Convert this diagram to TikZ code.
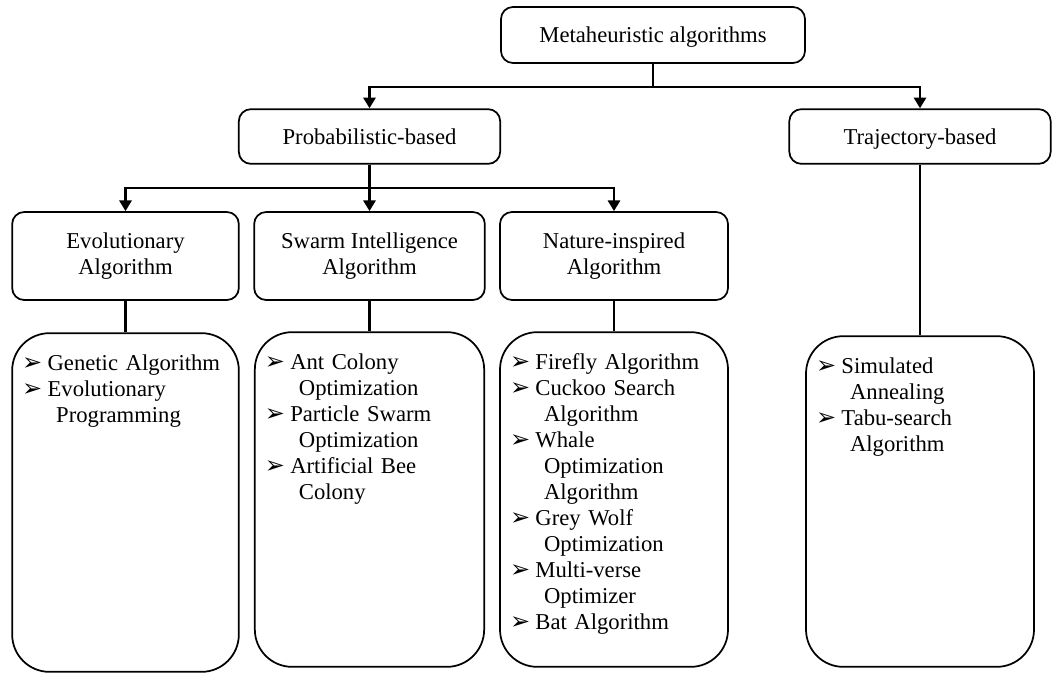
\documentclass[tikz,border=0pt]{standalone}
\usepackage{fontspec}
\setmainfont{Liberation Serif}
\newfontfamily\arrowfont{DejaVu Sans}
\usetikzlibrary{arrows.meta}
\tikzstyle{block} = [rectangle, draw, line width=1.3pt, align=center,
    rounded corners=9pt, font=\fontsize{17}{19.5}\selectfont]
\tikzstyle{single} = [block, text depth=0pt, minimum height=41pt]
\tikzstyle{listbox} = [rectangle, draw, line width=1.3pt, rounded corners=28pt]
\tikzstyle{listtext} = [anchor=north west, inner sep=0pt, text width=165pt,
    align=left, font=\fontsize{17}{19.5}\selectfont, xshift=8pt, yshift=-9pt]
\tikzstyle{line} = [draw, line width=2.2pt, -{Triangle[width=9pt,length=8pt]}]
\tikzstyle{link} = [draw, line width=2.2pt]
\newcommand{\bitem}[1]{\par\hangindent=1.5em\hangafter=1\noindent
    \makebox[1.12em][l]{\arrowfont\fontsize{18}{18}\selectfont\char"27A2}#1\par}

\begin{document}
\begin{tikzpicture}[x=0.75pt, y=-0.75pt]
    \useasboundingbox (0,0) rectangle (1059,683);
    % top levels
    \node [single, minimum width=228pt, minimum height=42pt] at (653,35) (meta) {Metaheuristic algorithms};
    \node [single, minimum width=196pt] at (369.5,136.5) (prob) {Probabilistic-based};
    \node [single, minimum width=196pt] at (920,136.5) (traj) {Trajectory-based};
    \node [block, minimum width=170pt, minimum height=66pt] at (125.5,256) (evo) {Evolutionary\\Algorithm};
    \node [block, minimum width=173pt, minimum height=66pt] at (369.5,256) (swarm) {Swarm Intelligence\\Algorithm};
    \node [block, minimum width=171pt, minimum height=66pt] at (614,256) (nature) {Nature-inspired\\Algorithm};
    % lists
    \node [listbox, minimum width=170pt, minimum height=254pt] at (125.5,502.5) (evolist) {};
    \node [listbox, minimum width=172pt, minimum height=251pt] at (369.5,499.5) (swarmlist) {};
    \node [listbox, minimum width=171pt, minimum height=251pt] at (614,499.5) (naturelist) {};
    \node [listbox, minimum width=171pt, minimum height=248pt] at (920,501.5) (trajlist) {};
    \node [listtext] at (evolist.north west) (evotext) {%
        \bitem{Genetic Algorithm}
        \bitem{Evolutionary\newline Programming}};
    \node [listtext] at (swarmlist.north west) (swarmtext) {%
        \bitem{Ant Colony\newline Optimization}
        \bitem{Particle Swarm\newline Optimization}
        \bitem{Artificial Bee\newline Colony}};
    \node [listtext] at (naturelist.north west) (naturetext) {%
        \bitem{Firefly Algorithm}
        \bitem{Cuckoo Search\newline Algorithm}
        \bitem{Whale\newline Optimization\newline Algorithm}
        \bitem{Grey Wolf\newline Optimization}
        \bitem{Multi-verse\newline Optimizer}
        \bitem{Bat Algorithm}};
    \node [listtext] at (trajlist.north west) (trajtext) {%
        \bitem{Simulated\newline Annealing}
        \bitem{Tabu-search\newline Algorithm}};
    % connectors
    \coordinate (split1) at (653,87);
    \coordinate (split2) at (369.5,188);
    \path [link] (meta) -- (split1);
    \path [line] (split1) -| (prob);
    \path [line] (split1) -| (traj);
    \path [link] (prob) -- (split2);
    \path [line] (split2) -| (evo);
    \path [line] (split2) -- (swarm);
    \path [line] (split2) -| (nature);
    \path [link] (evo) -- (evolist);
    \path [link] (swarm) -- (swarmlist);
    \path [link] (nature) -- (naturelist);
    \path [link] (traj) -- (trajlist);
\end{tikzpicture}
\end{document}
